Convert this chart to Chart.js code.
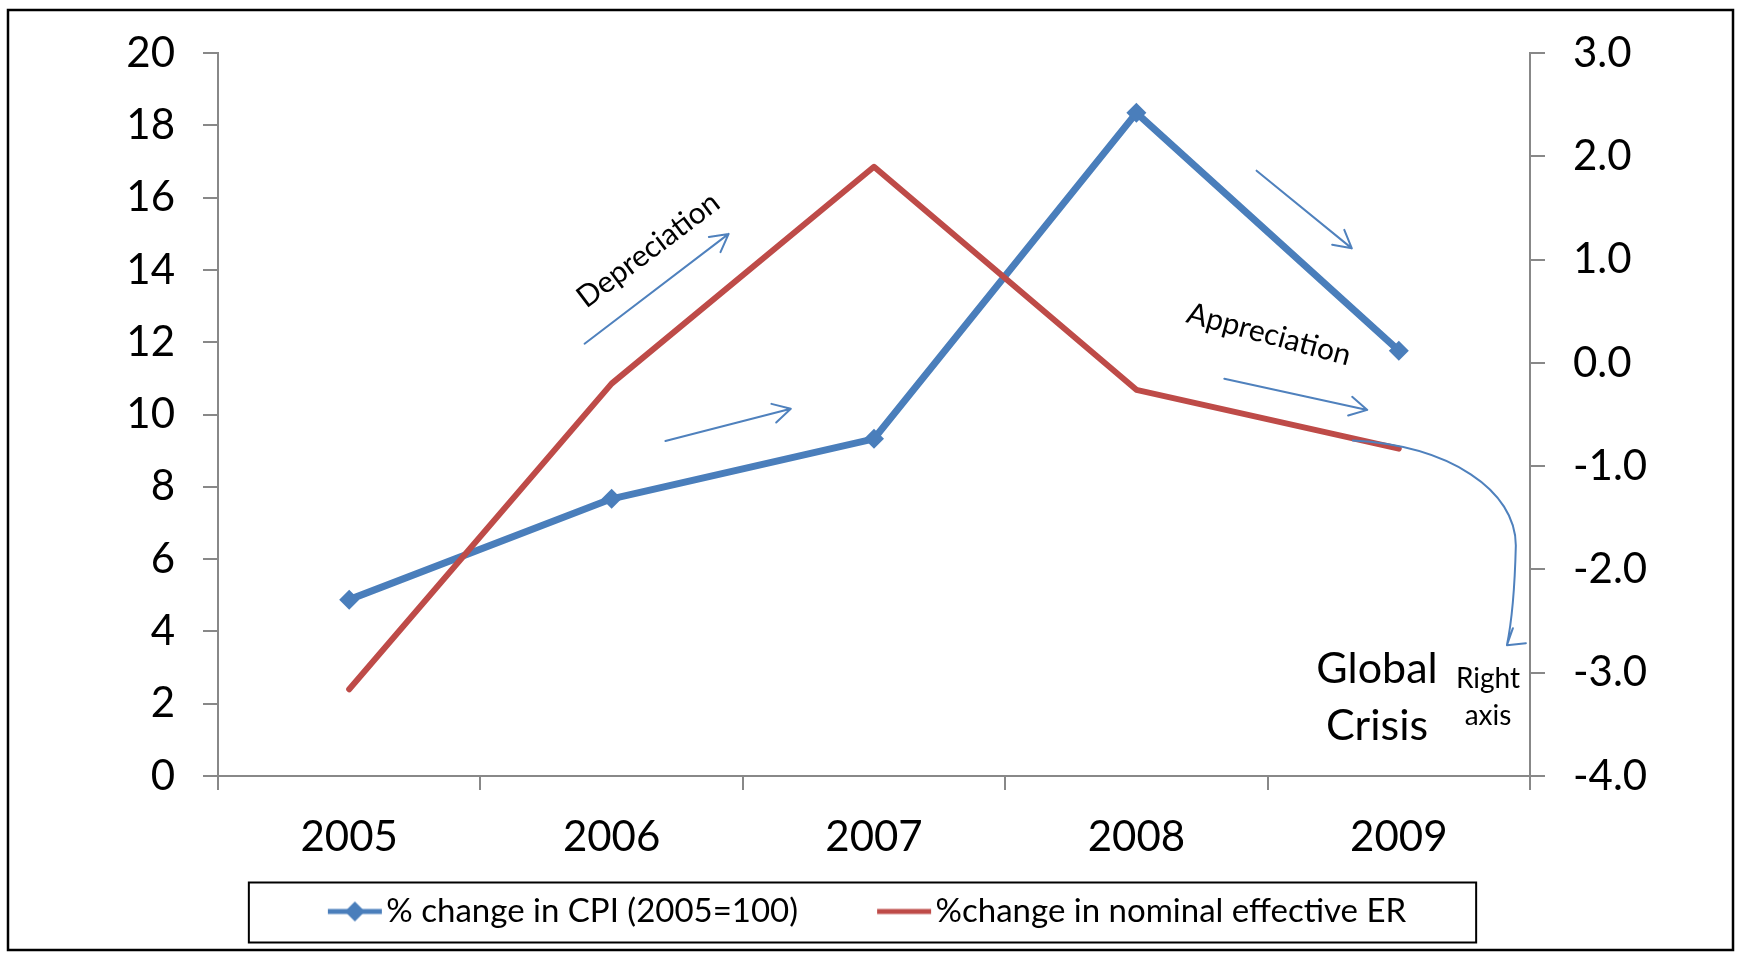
<!DOCTYPE html>
<html>
<head>
<meta charset="utf-8">
<script src="https://cdn.jsdelivr.net/npm/chart.js@4.4.1/dist/chart.umd.min.js"></script>
<style>
  html, body { margin: 0; padding: 0; background: #fff; }
  #wrap { width: 1739px; height: 954px; }
</style>
</head>
<body>
<div id="wrap"><canvas id="grafico"></canvas></div>
<script>
const years = ["2005", "2006", "2007", "2008", "2009"];
const cpiChange = [4.88, 7.67, 9.33, 18.35, 11.77];
const erChange = [-3.16, -0.20, 1.90, -0.26, -0.83];
const leftTicks = [0, 2, 4, 6, 8, 10, 12, 14, 16, 18, 20];
const rightTicks = [-4, -3, -2, -1, 0, 1, 2, 3];
const seriesNames = ["% change in CPI (2005=100)", "%change in nominal effective ER"];

const FONT = "Lato, 'Open Sans', sans-serif";
const BLUE = "#4A7EBB";
const RED = "#BE4B48";
const ARROW = "#4F81BD";
const AXIS = "#888888";
const PLOT_BOTTOM = 776;
const PAD_BOTTOM = 16;
const PAD_RIGHT = 54;
const KEY_BOX = 91;               // legend point-style box width
const KEY_IMG = KEY_BOX + 28;     // marker canvas, drawing sits on its right end

// marker images for the legend: short line, with a diamond for the CPI series
function legendMarker(color, diamond, width) {
  const c = document.createElement("canvas");
  c.width = KEY_IMG;
  c.height = 22;
  const g = c.getContext("2d");
  const x0 = KEY_IMG - 58;
  g.strokeStyle = color;
  g.lineWidth = width;
  g.beginPath();
  g.moveTo(x0 + 2, 11);
  g.lineTo(x0 + 56, 11);
  g.stroke();
  if (diamond) {
    g.fillStyle = color;
    g.beginPath();
    g.moveTo(x0 + 29, 1);
    g.lineTo(x0 + 39, 11);
    g.lineTo(x0 + 29, 21);
    g.lineTo(x0 + 19, 11);
    g.closePath();
    g.fill();
  }
  return c;
}

const markers = [legendMarker(BLUE, true, 5), legendMarker(RED, false, 5)];

function arrow(ctx, a, b) {
  const ang = Math.atan2(b[1] - a[1], b[0] - a[0]);
  const len = 20;
  ctx.beginPath();
  ctx.moveTo(a[0], a[1]);
  ctx.lineTo(b[0], b[1]);
  ctx.moveTo(b[0] - len * Math.cos(ang - 0.5), b[1] - len * Math.sin(ang - 0.5));
  ctx.lineTo(b[0], b[1]);
  ctx.lineTo(b[0] - len * Math.cos(ang + 0.5), b[1] - len * Math.sin(ang + 0.5));
  ctx.stroke();
}

function label(ctx, text, pt, size, rot) {
  ctx.save();
  ctx.translate(pt[0], pt[1]);
  ctx.rotate((rot || 0) * Math.PI / 180);
  ctx.font = size + "px " + FONT;
  ctx.fillStyle = "#000";
  ctx.textAlign = "center";
  ctx.textBaseline = "middle";
  ctx.fillText(text, 0, 0);
  ctx.restore();
}

// hand-drawn notes: arrows and captions placed in data units
const notas = {
  id: "notas",
  afterDatasetsDraw(chart) {
    const { ctx } = chart;
    const x = chart.scales.x;
    const y = chart.scales.y;
    const p = (i, v) => [x.getPixelForValue(i), y.getPixelForValue(v)];

    ctx.save();
    ctx.strokeStyle = ARROW;
    ctx.lineWidth = 2;
    ctx.lineCap = "round";
    ctx.lineJoin = "round";

    arrow(ctx, p(0.897, 11.96), p(1.446, 15.0));
    arrow(ctx, p(1.205, 9.27), p(1.683, 10.16));
    arrow(ctx, p(3.458, 16.75), p(3.821, 14.6));
    arrow(ctx, p(3.335, 10.99), p(3.880, 10.13));

    // curved pointer down to the right axis
    const s = p(3.825, 9.28);
    const c1 = p(4.195, 9.14);
    const c2 = p(4.446, 7.90);
    const m = p(4.446, 6.38);
    const q = p(4.44, 4.6);
    const t = p(4.412, 3.62);
    ctx.beginPath();
    ctx.moveTo(s[0], s[1]);
    ctx.bezierCurveTo(c1[0], c1[1], c2[0], c2[1], m[0], m[1]);
    ctx.quadraticCurveTo(q[0], q[1], t[0], t[1]);
    ctx.moveTo(t[0] + 6, t[1] - 17);
    ctx.lineTo(t[0], t[1]);
    ctx.lineTo(t[0] + 19, t[1] - 2);
    ctx.stroke();
    ctx.restore();

    label(ctx, "Depreciation", p(1.140, 14.55), 30, -37);
    label(ctx, "Appreciation", p(3.505, 12.22), 30, 15);
    label(ctx, "Global", p(3.917, 2.96), 43);
    label(ctx, "Crisis", p(3.917, 1.38), 43);
    label(ctx, "Right", p(4.340, 2.68), 28);
    label(ctx, "axis", p(4.340, 1.66), 28);
  },
  afterDraw(chart) {
    const { ctx } = chart;
    ctx.save();
    ctx.strokeStyle = "#000";
    ctx.lineWidth = 2.5;
    ctx.strokeRect(8, 10, 1725, 940);

    const boxes = chart.legend.legendHitBoxes;
    if (boxes && boxes.length) {
      const first = boxes[0];
      const last = boxes[boxes.length - 1];
      const cy = first.top + first.height / 2;
      const left = first.left - 30;
      const right = last.left + last.width + 70;
      ctx.lineWidth = 2;
      ctx.strokeRect(left, cy - 29, right - left, 60);
    }
    ctx.restore();
  }
};

new Chart(document.getElementById("grafico"), {
  type: "line",
  data: {
    labels: years,
    datasets: [
      {
        label: seriesNames[0],
        data: cpiChange,
        yAxisID: "y",
        order: 1,
        borderColor: BLUE,
        backgroundColor: BLUE,
        borderWidth: 7,
        borderJoinStyle: "round",
        pointStyle: "rectRot",
        pointRadius: 10,
        pointBorderWidth: 0,
        pointBackgroundColor: BLUE,
        tension: 0
      },
      {
        label: seriesNames[1],
        data: erChange,
        yAxisID: "y1",
        order: 0,
        borderColor: RED,
        backgroundColor: RED,
        borderWidth: 6,
        borderCapStyle: "round",
        borderJoinStyle: "round",
        pointRadius: 0,
        tension: 0
      }
    ]
  },
  options: {
    responsive: true,
    maintainAspectRatio: false,
    animation: false,
    layout: {
      padding: { top: 52, left: 0, right: PAD_RIGHT, bottom: PAD_BOTTOM }
    },
    plugins: {
      tooltip: { enabled: false },
      legend: {
        position: "bottom",
        labels: {
          usePointStyle: true,
          pointStyleWidth: KEY_BOX,
          padding: 30,
          color: "#000",
          font: { family: FONT, size: 33 },
          generateLabels: (chart) => chart.data.datasets.map((ds, i) => ({
            text: ds.label,
            pointStyle: markers[i],
            fillStyle: ds.borderColor,
            strokeStyle: ds.borderColor,
            lineWidth: 0,
            hidden: false,
            datasetIndex: i
          }))
        }
      }
    },
    scales: {
      x: {
        offset: true,
        afterFit: (s) => { s.height = s.chart.height - PAD_BOTTOM - s.chart.legend.height - PLOT_BOTTOM; },
        grid: { offset: true, drawOnChartArea: false, tickLength: 14, color: AXIS, lineWidth: 2 },
        border: { display: true, color: AXIS, width: 2 },
        ticks: { padding: 22, color: "#000", font: { family: FONT, size: 42 } }
      },
      y: {
        position: "left",
        min: 0,
        max: 20,
        afterBuildTicks: (s) => { s.ticks = leftTicks.map((value) => ({ value })); },
        afterFit: (s) => { s.width = 218; },
        grid: { drawOnChartArea: false, tickLength: 15, color: AXIS, lineWidth: 2 },
        border: { display: true, color: AXIS, width: 2 },
        ticks: { padding: 28, color: "#000", font: { family: FONT, size: 42 } }
      },
      y1: {
        position: "right",
        min: -4,
        max: 3,
        afterBuildTicks: (s) => { s.ticks = rightTicks.map((value) => ({ value })); },
        afterFit: (s) => { s.width = 209 - PAD_RIGHT; },
        grid: { drawOnChartArea: false, tickLength: 15, color: AXIS, lineWidth: 2 },
        border: { display: true, color: AXIS, width: 2 },
        ticks: {
          padding: 28,
          color: "#000",
          font: { family: FONT, size: 42 },
          callback: (v) => Number(v).toFixed(1)
        }
      }
    }
  },
  plugins: [notas]
});
</script>
</body>
</html>
